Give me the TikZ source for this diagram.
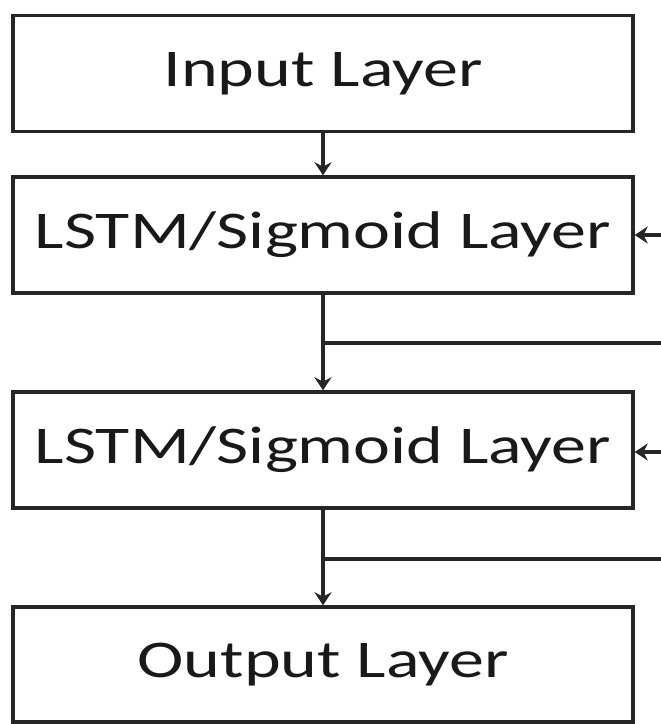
\documentclass[tikz,border=0pt]{standalone}
\usepackage{fontspec}
\setmainfont[FakeStretch=1.32]{Carlito}
\usetikzlibrary{arrows.meta}
\begin{document}
\begin{tikzpicture}[x=1pt,y=1pt,
  layerbox/.style={draw=black!85, line width=3.4pt, minimum width=620pt, minimum height=116pt, inner sep=0pt, font=\fontsize{53}{56}\selectfont, text=black!90},
  conn/.style={draw=black!85, line width=3.6pt},
  arr/.style={conn, -{Stealth[length=13pt,width=17pt]}}]
\useasboundingbox (0,0) rectangle (661,-724);
\node[layerbox] (in) at (323,-73.5) {Input Layer};
\node[layerbox] (l1) at (323,-235) {LSTM/Sigmoid Layer};
\node[layerbox] (l2) at (323,-450) {LSTM/Sigmoid Layer};
\node[layerbox, minimum height=115pt] (out) at (323,-664.5) {Output Layer};
\coordinate (f1) at (663,-235);
\coordinate (f2) at (663,-452);
\coordinate (b1) at (323,-343);
\coordinate (e1) at (663,-343);
\coordinate (b2) at (323,-559);
\coordinate (e2) at (663,-559);
\draw[arr] (in.south) -- (l1.north);
\draw[arr] (l1.south) -- (l2.north);
\draw[arr] (l2.south) -- (out.north);
\draw[arr] (f1) -- (l1.east);
\draw[arr] (f2) -- (l2.east |- f2);
\draw[conn] (b1) -- (e1);
\draw[conn] (b2) -- (e2);
\end{tikzpicture}
\end{document}
